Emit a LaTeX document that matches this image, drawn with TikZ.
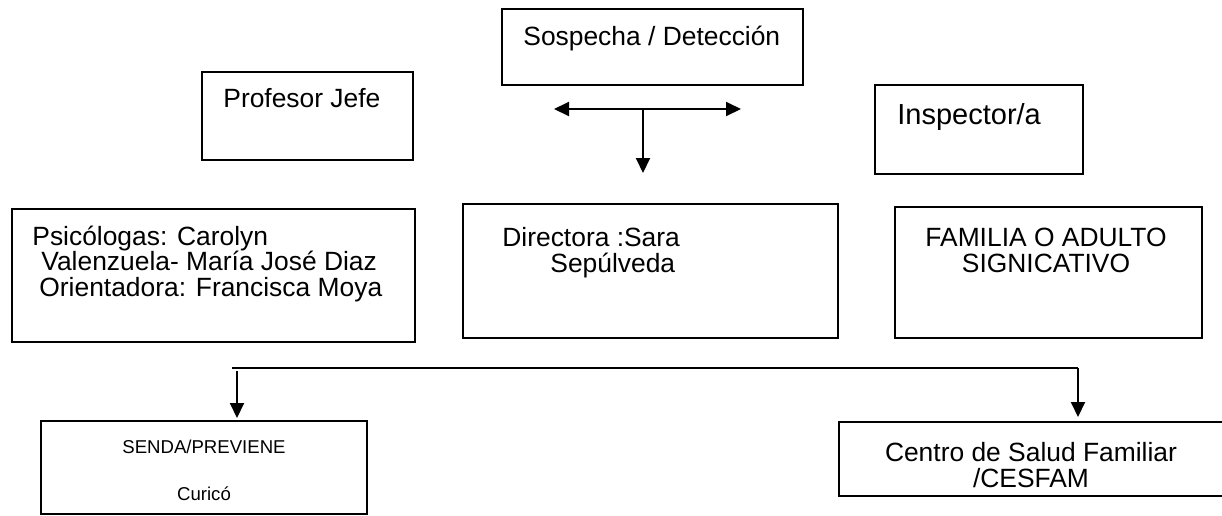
\documentclass[tikz,border=0pt]{standalone}
\usepackage{fontspec}
\setmainfont{Liberation Sans}
\usetikzlibrary{arrows.meta}

\begin{document}
\begin{tikzpicture}[x=0.5pt, y=-0.5pt,
    box/.style={draw, line width=1pt, inner sep=0pt},
    txt/.style={inner sep=0pt, font=\fontsize{13.2pt}{12.75pt}\selectfont},
    arr/.style={line width=1pt, -{Triangle[length=7.5pt,width=7pt]}}]
         \useasboundingbox (0,0) rectangle (1222,515);
         % boxes
         \node [box, minimum width=150.5pt, minimum height=38pt] (sosp) at (652.5,47) {};
         \node [box, minimum width=105.5pt, minimum height=44pt] (prof) at (307.5,116) {};
         \node [box, minimum width=104pt, minimum height=44.5pt] (insp) at (979,129.5) {};
         \node [box, minimum width=201.5pt, minimum height=66.5pt] (psic) at (213.5,275.5) {};
         \node [box, minimum width=187.5pt, minimum height=67pt] (dir) at (650.5,271) {};
         \node [box, minimum width=153.5pt, minimum height=65.5pt] (fam) at (1048.5,272.5) {};
         \node [box, minimum width=163pt, minimum height=46.5pt] (senda) at (204,467.5) {};
         \node [box, minimum width=193.5pt, minimum height=37pt] (cesfam) at (1032.5,459) {};
         % texts (multi-line ones sit on their last line)
         \node [txt, anchor=base west] (sospT) at (523,45) {Sospecha / Detección};
         \node [txt, anchor=base west] (profT) at (223,107) {Profesor Jefe};
         \node [txt, anchor=base west, font=\fontsize{14.5pt}{16pt}\selectfont] (inspT) at (897,124) {Inspector/a};
         \node [txt, anchor=base west, align=left] (psicT) at (32,296)
               {Psicólogas: Carolyn\\\hspace*{4.5pt}Valenzuela- María José Diaz\\\hspace*{3.5pt}Orientadora: Francisca Moya};
         \node [txt, anchor=base west, align=left] (dirT) at (502,272) {Directora :Sara\\\hspace*{24pt}Sepúlveda};
         \node [txt, anchor=base, align=center] (famT) at (1046,272) {FAMILIA O ADULTO\\SIGNICATIVO};
         \node [txt, anchor=base, align=center, font=\fontsize{9.3pt}{23.5pt}\selectfont] (sendaT) at (204,500) {SENDA/PREVIENE\\Curicó};
         \node [txt, anchor=base, align=center] (cesfamT) at (1031,487) {Centro de Salud Familiar\\/CESFAM};
         % connectors
         \coordinate (tee) at (643,109);
         \coordinate (teeL) at (554,109);
         \coordinate (teeR) at (741,109);
         \coordinate (teeD) at (643,173);
         \draw [arr, {Triangle[length=7.5pt,width=7pt]}-{Triangle[length=7.5pt,width=7pt]}] (teeL) -- (teeR);
         \draw [arr] (tee) -- (teeD);
         \coordinate (busL) at (232,368);
         \coordinate (busR) at (1078,368);
         \coordinate (dropL) at (237,371);
         \coordinate (dropR) at (1078,368);
         \draw [line width=1pt] (busL) -- (busR);
         \draw [arr] (dropL) -- ([yshift=1pt]dropL |- senda.north);
         \draw [arr] (dropR) -- ([yshift=2pt]dropR |- cesfam.north);
\end{tikzpicture}
\end{document}
